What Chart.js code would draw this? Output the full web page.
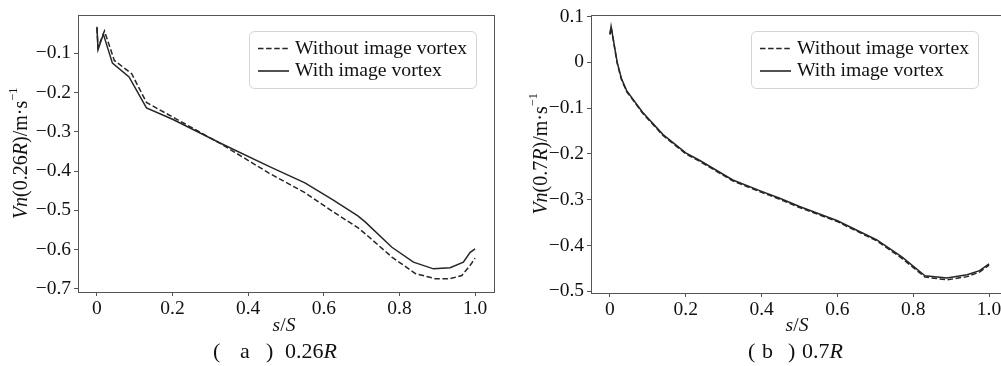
<!DOCTYPE html>
<html>
<head>
<title>Vn along blade</title>
<script src="https://cdn.jsdelivr.net/npm/chart.js@4.4.1/dist/chart.umd.min.js"></script>
<style>
  body { margin: 0; width: 1001px; height: 366px; overflow: hidden; background: #fff; position: relative; }
  canvas { position: absolute; top: 0; }
</style>
</head>
<body>
<canvas id="chartA" width="500" height="366" style="left:0"></canvas>
<canvas id="chartB" width="510" height="366" style="left:500px"></canvas>

<script>
// ---- data ----
const xTicks = [0, 0.2, 0.4, 0.6, 0.8, 1.0];
const xTickLabels = ['0', '0.2', '0.4', '0.6', '0.8', '1.0'];

const yTicksA = [-0.1, -0.2, -0.3, -0.4, -0.5, -0.6, -0.7];
const yTickLabelsA = ['\u22120.1', '\u22120.2', '\u22120.3', '\u22120.4', '\u22120.5', '\u22120.6', '\u22120.7'];
const yTicksB = [0.1, 0, -0.1, -0.2, -0.3, -0.4, -0.5];
const yTickLabelsB = ['0.1', '0', '\u22120.1', '\u22120.2', '\u22120.3', '\u22120.4', '\u22120.5'];

// (a) 0.26R
const sA_without = [0, 0.003, 0.02, 0.046, 0.092, 0.131, 0.2, 0.327, 0.455, 0.55, 0.622, 0.69, 0.71, 0.78, 0.842, 0.894, 0.934, 0.965, 0.987, 1.0];
const vnA_without = [-0.035, -0.085, -0.043, -0.118, -0.152, -0.225, -0.262, -0.33, -0.405, -0.455, -0.502, -0.544, -0.56, -0.619, -0.661, -0.674, -0.674, -0.666, -0.64, -0.622];
const sA_with = [0, 0.003, 0.017, 0.041, 0.085, 0.131, 0.2, 0.327, 0.455, 0.55, 0.622, 0.69, 0.71, 0.78, 0.837, 0.89, 0.934, 0.969, 0.987, 1.0];
const vnA_with = [-0.032, -0.091, -0.051, -0.125, -0.16, -0.239, -0.268, -0.329, -0.388, -0.43, -0.472, -0.514, -0.53, -0.594, -0.632, -0.649, -0.646, -0.632, -0.607, -0.598];

// (b) 0.7R
const sB = [0, 0.003, 0.019, 0.03, 0.044, 0.086, 0.14, 0.2, 0.236, 0.324, 0.4, 0.448, 0.5, 0.6, 0.704, 0.77, 0.831, 0.889, 0.942, 0.975, 1.0];
const vnB_without = [0.062, 0.077, -0.002, -0.037, -0.064, -0.111, -0.16, -0.2, -0.216, -0.259, -0.284, -0.299, -0.317, -0.348, -0.39, -0.428, -0.469, -0.475, -0.468, -0.458, -0.443];
const vnB_with = [0.06, 0.078, 0.0, -0.035, -0.062, -0.109, -0.158, -0.198, -0.214, -0.257, -0.282, -0.297, -0.315, -0.346, -0.388, -0.425, -0.466, -0.471, -0.464, -0.455, -0.44];

const seriesNames = ['Without image vortex', 'With image vortex'];

// ---- drawing helpers ----
const FAMILY = '"Liberation Serif", "Times New Roman", serif';
const LINE = '#262626';
const AXIS = '#555';

function fontOf(seg, fs) {
  const size = seg.sup ? fs * 0.62 : fs;
  return (seg.i ? 'italic ' : '') + size + 'px ' + FAMILY;
}
function drawSegs(ctx, segs, x, y, fs, align) {
  let total = 0;
  segs.forEach(s => { ctx.font = fontOf(s, fs); total += ctx.measureText(s.t).width; });
  let cx = align === 'center' ? x - total / 2 : x;
  ctx.textAlign = 'left';
  ctx.textBaseline = 'middle';
  segs.forEach(s => {
    ctx.font = fontOf(s, fs);
    ctx.fillText(s.t, cx, s.sup ? y - fs * 0.4 : y);
    cx += ctx.measureText(s.t).width;
  });
}

const deco = {
  id: 'deco',
  afterDraw(chart, args, o) {
    const ctx = chart.ctx, a = chart.chartArea;
    ctx.save();
    // frame (all four spines)
    ctx.strokeStyle = AXIS;
    ctx.lineWidth = 1;
    ctx.strokeRect(Math.round(a.left) + 0.5, Math.round(a.top) + 0.5, Math.round(a.right - a.left), Math.round(a.bottom - a.top));

    ctx.fillStyle = '#111';
    // y title
    ctx.save();
    ctx.translate(o.yTitleX, (a.top + a.bottom) / 2);
    ctx.rotate(-Math.PI / 2);
    drawSegs(ctx, o.yTitle, 0, 0, 20, 'center');
    ctx.restore();
    // x title
    drawSegs(ctx, [{ t: 's', i: true }, { t: '/' }, { t: 'S', i: true }], o.xTitleX, 326, 19.5, 'center');
    // caption
    o.capParts.forEach(p => drawSegs(ctx, [{ t: p.t }], p.x, 352, o.capSize, 'left'));
    drawSegs(ctx, o.capTail, o.capTailX, 352, o.capSize, 'left');

    // legend
    const L = o.legend;
    ctx.beginPath();
    ctx.roundRect(L.x + 0.5, L.y + 0.5, L.w, L.h, 5);
    ctx.fillStyle = 'rgba(255,255,255,0.85)';
    ctx.fill();
    ctx.strokeStyle = '#d4d4d4';
    ctx.stroke();
    const rows = [L.y + 17.5, L.y + 40];
    chart.data.datasets.forEach((ds, i) => {
      ctx.beginPath();
      ctx.strokeStyle = LINE;
      ctx.lineWidth = 1.6;
      ctx.setLineDash(ds.borderDash || []);
      ctx.moveTo(L.x + 9, rows[i]);
      ctx.lineTo(L.x + 40, rows[i]);
      ctx.stroke();
      ctx.setLineDash([]);
      ctx.fillStyle = '#111';
      drawSegs(ctx, [{ t: ds.label }], L.x + 46, rows[i], 19.7, 'left');
    });
    ctx.restore();
  }
};

function pts(xs, ys) { return xs.map((x, i) => ({ x: x, y: ys[i] })); }

function makeChart(id, cfg) {
  const tickFont = { family: FAMILY, size: 19.5 };
  return new Chart(document.getElementById(id), {
    type: 'line',
    data: {
      datasets: [
        { label: seriesNames[0], data: pts(cfg.sDash, cfg.vDash), borderColor: LINE, borderWidth: 1.5, borderDash: [5.5, 2.6], pointRadius: 0, tension: 0 },
        { label: seriesNames[1], data: pts(cfg.sSolid, cfg.vSolid), borderColor: LINE, borderWidth: 1.5, pointRadius: 0, tension: 0 }
      ]
    },
    plugins: [deco],
    options: {
      responsive: false,
      animation: false,
      layout: { padding: { left: 0, top: cfg.top, right: cfg.right, bottom: 0 } },
      plugins: {
        legend: { display: false },
        tooltip: { enabled: false },
        deco: cfg.deco
      },
      scales: {
        x: {
          type: 'linear', min: -0.05, max: 1.05,
          afterBuildTicks: s => { s.ticks = xTicks.map(v => ({ value: v })); },
          afterFit: s => { s.height = cfg.xh; },
          ticks: { callback: (v, i) => xTickLabels[i], font: tickFont, color: '#111', padding: 1, maxRotation: 0, autoSkip: false },
          grid: { drawOnChartArea: false, drawTicks: true, tickLength: 4, color: AXIS, tickColor: AXIS },
          border: { display: false }
        },
        y: {
          type: 'linear', min: cfg.ymin, max: cfg.ymax,
          afterBuildTicks: s => { s.ticks = cfg.yTicks.map(v => ({ value: v })); },
          afterFit: s => { s.width = cfg.yw; },
          ticks: { callback: (v, i) => cfg.yLabels[i], font: tickFont, color: '#111', padding: 3, autoSkip: false },
          grid: { drawOnChartArea: false, drawTicks: true, tickLength: 4, color: AXIS, tickColor: AXIS },
          border: { display: false }
        }
      }
    }
  });
}

makeChart('chartA', {
  sDash: sA_without, vDash: vnA_without, sSolid: sA_with, vSolid: vnA_with,
  yTicks: yTicksA, yLabels: yTickLabelsA, ymin: -0.708, ymax: -0.0015,
  top: 12, right: 6, xh: 74, yw: 78,
  deco: {
    yTitleX: 22, xTitleX: 284,
    yTitle: [{ t: 'Vn', i: true }, { t: '(0.26' }, { t: 'R', i: true }, { t: ')/m\u00b7s' }, { t: '\u22121', sup: true }],
    capSize: 22,
    capParts: [{ t: '(', x: 213 }, { t: 'a', x: 240 }, { t: ')', x: 266 }],
    capTail: [{ t: '0.26' }, { t: 'R', i: true }], capTailX: 285,
    legend: { x: 249, y: 31, w: 227, h: 57 }
  }
});

makeChart('chartB', {
  sDash: sB, vDash: vnB_without, sSolid: sB, vSolid: vnB_with,
  yTicks: yTicksB, yLabels: yTickLabelsB, ymin: -0.5037, ymax: 0.1037,
  top: 14, right: 2, xh: 73, yw: 91,
  deco: {
    yTitleX: 42, xTitleX: 297,
    yTitle: [{ t: 'Vn', i: true }, { t: '(0.7' }, { t: 'R', i: true }, { t: ')/m\u00b7s' }, { t: '\u22121', sup: true }],
    capSize: 22,
    capParts: [{ t: '(', x: 248 }, { t: 'b', x: 262 }, { t: ')', x: 288 }],
    capTail: [{ t: '0.7' }, { t: 'R', i: true }], capTailX: 302,
    legend: { x: 251, y: 31, w: 227, h: 57 }
  }
});
</script>
</body>
</html>
